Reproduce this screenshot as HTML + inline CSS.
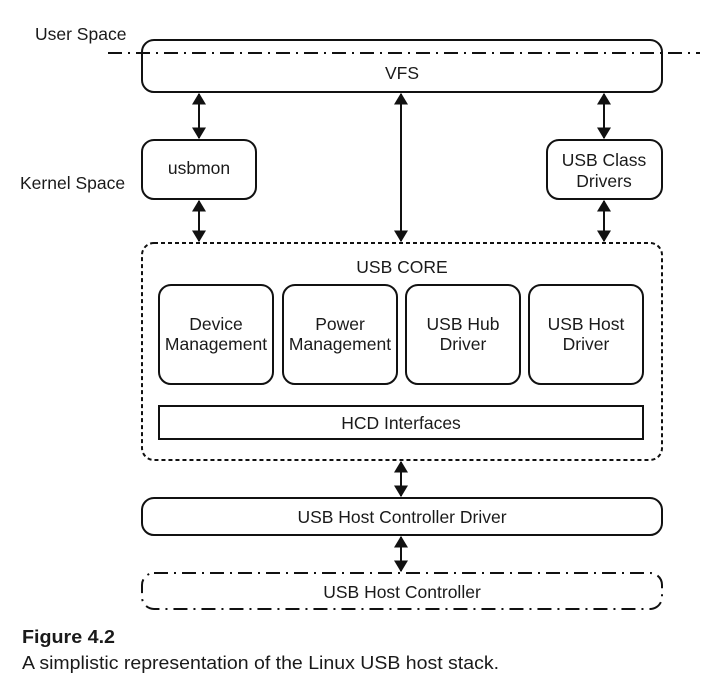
<!DOCTYPE html>
<html><head><style>
html,body{margin:0;padding:0;background:#fff;}
svg{display:block;}
text{font-family:"Liberation Sans",sans-serif;fill:#1a1a1a;}
</style></head><body>
<svg width="720" height="696" viewBox="0 0 720 696" xmlns="http://www.w3.org/2000/svg">
<defs>
<marker id="a" viewBox="0 0 10 12" refX="9" refY="6" markerWidth="6" markerHeight="7" orient="auto-start-reverse">
<path d="M0,0 L10,6 L0,12 Z" fill="#111"/>
</marker>
</defs>
<g stroke="#111" stroke-width="2" fill="none">
<rect x="142" y="40" width="520" height="52" rx="12"/>
<rect x="142" y="140" width="114" height="59" rx="12"/>
<rect x="547" y="140" width="115" height="59" rx="12"/>
<rect x="142" y="243" width="520" height="217" rx="12" stroke-dasharray="4,3"/>
<rect x="159" y="285" width="114" height="99" rx="12"/>
<rect x="283" y="285" width="114" height="99" rx="12"/>
<rect x="406" y="285" width="114" height="99" rx="12"/>
<rect x="529" y="285" width="114" height="99" rx="12"/>
<rect x="159" y="406" width="484" height="33"/>
<rect x="142" y="498" width="520" height="37" rx="12"/>
<rect x="142" y="573" width="520" height="36" rx="12" stroke-dasharray="14,6,2,6"/>
<line x1="108" y1="53" x2="700" y2="53" stroke-dasharray="14,6,2,6"/>
<line x1="199" y1="94" x2="199" y2="138" marker-start="url(#a)" marker-end="url(#a)"/>
<line x1="199" y1="201" x2="199" y2="241" marker-start="url(#a)" marker-end="url(#a)"/>
<line x1="401" y1="94" x2="401" y2="241" marker-start="url(#a)" marker-end="url(#a)"/>
<line x1="604" y1="94" x2="604" y2="138" marker-start="url(#a)" marker-end="url(#a)"/>
<line x1="604" y1="201" x2="604" y2="241" marker-start="url(#a)" marker-end="url(#a)"/>
<line x1="401" y1="462" x2="401" y2="496" marker-start="url(#a)" marker-end="url(#a)"/>
<line x1="401" y1="537" x2="401" y2="571" marker-start="url(#a)" marker-end="url(#a)"/>
</g>
<g font-size="17.5" text-anchor="middle">
<text x="402" y="79">VFS</text>
<text x="199" y="174">usbmon</text>
<text x="604" y="166">USB Class</text>
<text x="604" y="187">Drivers</text>
<text x="402" y="273">USB CORE</text>
<text x="216" y="330">Device</text>
<text x="216" y="350">Management</text>
<text x="340" y="330">Power</text>
<text x="340" y="350">Management</text>
<text x="463" y="330">USB Hub</text>
<text x="463" y="350">Driver</text>
<text x="586" y="330">USB Host</text>
<text x="586" y="350">Driver</text>
<text x="401" y="429">HCD Interfaces</text>
<text x="402" y="523">USB Host Controller Driver</text>
<text x="402" y="598">USB Host Controller</text>
</g>
<g font-size="17.5">
<text x="35" y="40">User Space</text>
<text x="20" y="189">Kernel Space</text>
<text x="22" y="643" font-weight="bold" font-size="18" textLength="93" lengthAdjust="spacingAndGlyphs">Figure 4.2</text>
<text x="22" y="669" font-size="18" textLength="477" lengthAdjust="spacingAndGlyphs">A simplistic representation of the Linux USB host stack.</text>
</g>
</svg>
</body></html>
